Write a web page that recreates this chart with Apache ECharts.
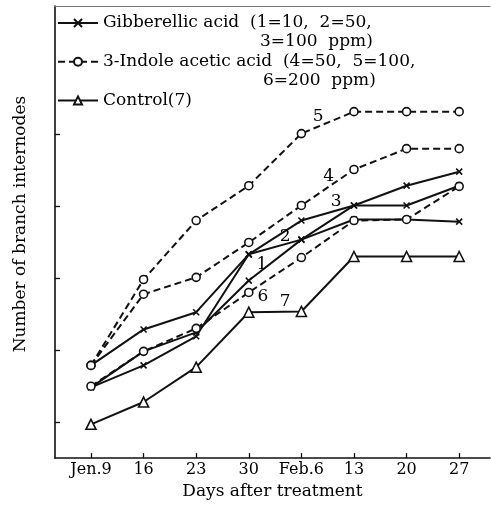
<!DOCTYPE html>
<html><head><meta charset="utf-8">
<script src="https://cdn.jsdelivr.net/npm/echarts@6/dist/echarts.min.js"></script>
<style>html,body{margin:0;padding:0;background:#fff}#c{width:491px;height:505px}</style>
</head><body><div id="c"></div>
<script>
// Categories (x axis) and tick labels
const categories = ['Jen.9', '16', '23', '30', 'Feb.6', '13', '20', '27'];
const yTickValues = [1, 3, 5, 7, 9];

// Gibberellic acid series (solid, x markers)
const ga1 = [1.97, 2.58, 3.39, 5.67, 6.08, 6.64, 6.64, 6.58];
const ga2 = [1.97, 2.97, 3.50, 4.94, 6.08, 7.03, 7.03, 7.58];
const ga3 = [2.58, 3.58, 4.06, 5.67, 6.61, 7.03, 7.58, 7.97];
// 3-Indole acetic acid series (dashed, circles)
const iaa4 = [2.58, 4.56, 5.03, 6.00, 7.03, 8.03, 8.61, 8.61];
const iaa5 = [2.58, 4.97, 6.61, 7.58, 9.03, 9.64, 9.64, 9.64];
const iaa6 = [2.00, 2.97, 3.61, 4.61, 5.58, 6.61, 6.64, 7.56];
// Control (solid, triangles)
const control7 = [0.94, 1.56, 2.53, 4.06, 4.08, 5.61, 5.61, 5.61];

// Curve number annotations (data coordinates)
const noteText = ['1', '2', '3', '4', '5', '6', '7'];
const noteX = [3.25, 3.69, 4.66, 4.52, 4.32, 3.27, 3.69];
const noteY = [5.39, 6.17, 7.14, 7.83, 9.50, 4.50, 4.36];

const legendNames = ['GA', 'IAA', 'Control'];
const legendText = {
  GA: 'Gibberellic acid  (1=10,  2=50,',
  IAA: '3-Indole acetic acid  (4=50,  5=100,',
  Control: 'Control(7)'
};
const legendCont = ['3=100  ppm)', '6=200  ppm)'];

const FONT = 'DejaVu Serif';
const INK = '#111';
const xMark = 'path://M0,0L10,10M10,0L0,10';

function pairs(arr) { return arr.map((v, i) => [i, v]); }

const gaStyle = {
  type: 'line', symbol: xMark, symbolSize: 6, showSymbol: true,
  lineStyle: { color: INK, width: 2, type: 'solid' },
  itemStyle: { color: INK, borderColor: INK, borderWidth: 1.6 },
  z: 3
};
const iaaStyle = {
  type: 'line', symbol: 'circle', symbolSize: 8,
  lineStyle: { color: INK, width: 2, type: [7, 4] },
  itemStyle: { color: '#fff', borderColor: INK, borderWidth: 1.6 },
  z: 4
};
const ctlStyle = {
  type: 'line', symbol: 'triangle', symbolSize: 10,
  lineStyle: { color: INK, width: 2, type: 'solid' },
  itemStyle: { color: '#fff', borderColor: INK, borderWidth: 1.6 },
  z: 4
};

const series = [
  Object.assign({ name: '1', data: pairs(ga1) }, gaStyle),
  Object.assign({ name: '2', data: pairs(ga2) }, gaStyle),
  Object.assign({ name: '3', data: pairs(ga3) }, gaStyle),
  Object.assign({ name: '4', data: pairs(iaa4) }, iaaStyle),
  Object.assign({ name: '5', data: pairs(iaa5) }, iaaStyle),
  Object.assign({ name: '6', data: pairs(iaa6) }, iaaStyle),
  Object.assign({ name: '7', data: pairs(control7) }, ctlStyle),
  Object.assign({ name: 'GA', data: [] }, gaStyle),
  Object.assign({ name: 'IAA', data: [] }, iaaStyle),
  Object.assign({ name: 'Control', data: [] }, ctlStyle)
];

const chart = echarts.init(document.getElementById('c'), null, { renderer: 'canvas' });
const catIdx = categories.map((_, i) => i);

chart.setOption({
  animation: false,
  backgroundColor: '#fff',
  textStyle: { fontFamily: FONT, color: '#000' },
  grid: { left: 55, right: 1, top: 6, bottom: 46, containLabel: false },
  legend: {
    data: legendNames, orient: 'vertical', left: 57, top: 13, padding: 0,
    itemWidth: 40, itemHeight: 10, itemGap: 18.7,
    formatter: n => legendText[n],
    textStyle: { fontFamily: FONT, fontSize: 17, color: '#000', lineHeight: 20 },
    selectedMode: false
  },
  xAxis: [{
    type: 'value', min: -0.684, max: 7.586,
    name: 'Days after treatment', nameLocation: 'middle', nameGap: 24,
    nameTextStyle: { fontFamily: FONT, fontSize: 17, color: '#000' },
    axisLine: { show: true, onZero: false, lineStyle: { color: INK, width: 1.6 } },
    axisTick: { show: true, inside: true, length: 5, customValues: catIdx, lineStyle: { color: INK, width: 1.3 } },
    axisLabel: { show: true, customValues: catIdx, margin: 4, fontFamily: FONT, fontSize: 16, color: '#000',
      formatter: v => categories[Math.round(v)] },
    splitLine: { show: false }
  }, {
    type: 'value', position: 'top', min: -0.684, max: 7.586,
    axisLine: { show: true, onZero: false, lineStyle: { color: '#777', width: 1 } },
    axisTick: { show: false }, axisLabel: { show: false }, splitLine: { show: false }
  }],
  yAxis: {
    type: 'value', min: 0, max: 12.58, position: 'left',
    name: 'Number of branch internodes', nameLocation: 'middle', nameGap: 26,
    nameTextStyle: { fontFamily: FONT, fontSize: 17, color: '#000', padding: [0, 0, 0, 16] },
    axisLine: { show: true, onZero: false, lineStyle: { color: INK, width: 1.6 } },
    axisTick: { show: true, inside: true, length: 5, customValues: yTickValues, lineStyle: { color: INK, width: 1.3 } },
    axisLabel: { show: false },
    splitLine: { show: false }
  },
  series: series
});

const graphics = [];
noteText.forEach((t, i) => {
  const p = chart.convertToPixel({ gridIndex: 0 }, [noteX[i], noteY[i]]);
  graphics.push({ type: 'text', x: p[0], y: p[1], style: { text: t, font: '17px "' + FONT + '"', fill: '#000', align: 'center', verticalAlign: 'middle' }, z: 10 });
});
graphics.push({ type: 'text', left: 260, top: 33, style: { text: legendCont[0], font: '17px "' + FONT + '"', fill: '#000' } });
graphics.push({ type: 'text', left: 263, top: 72, style: { text: legendCont[1], font: '17px "' + FONT + '"', fill: '#000' } });
chart.setOption({ graphic: graphics });
</script>
</body></html>
